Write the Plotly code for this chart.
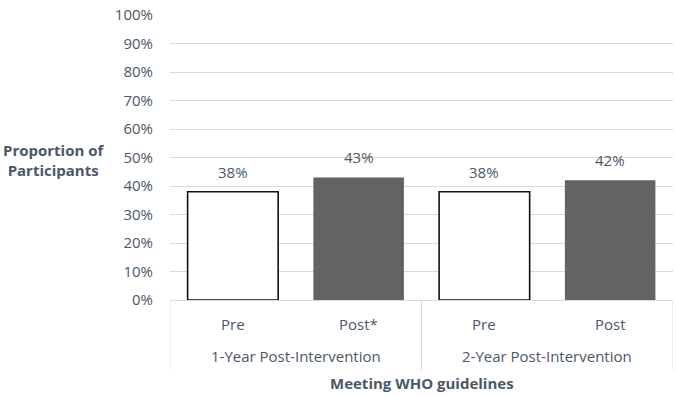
import plotly.graph_objects as go

groups = ["1-Year Post-Intervention", "2-Year Post-Intervention"]
phases = ["Pre", "Post*", "Pre", "Post"]
values = [38, 43, 38, 42]
y_ticks = [0, 10, 20, 30, 40, 50, 60, 70, 80, 90, 100]

TXT = "#4a5868"
FONT = "Open Sans, sans-serif"
FS = 15
xs = list(range(len(values)))

fig = go.Figure()
fig.add_trace(go.Bar(
    x=xs, y=values, width=0.72,
    marker=dict(color=["white", "#636363", "white", "#636363"],
                line=dict(color=["#111111", "#636363", "#111111", "#636363"], width=[1.6, 0, 1.6, 0])),
    hoverinfo="skip",
))
for i, v in enumerate(values):
    fig.add_annotation(x=i, y=v, xref="x", yref="y", text=f"{v}%", showarrow=False,
                       yanchor="bottom", yshift=8, font=dict(size=FS, color=TXT))

fig.update_layout(
    width=677, height=397,
    margin=dict(l=170, r=4, t=12, b=97),
    paper_bgcolor="white", plot_bgcolor="white",
    showlegend=False,
    font=dict(family=FONT, color=TXT, size=FS),
)
fig.update_yaxes(range=[0, 100], tickvals=y_ticks, ticktext=[f"{t}%" for t in y_ticks],
                 showgrid=True, gridcolor="#d9d9d9", gridwidth=1, zeroline=False,
                 ticks="", ticklabelstandoff=16, tickfont=dict(size=FS, color=TXT))
fig.update_xaxes(range=[-0.5, 3.5], showticklabels=False, showgrid=False, zeroline=False,
                 showline=True, linecolor="#d9d9d9", linewidth=1)

# category table lines
for xv in [-0.5, 1.5, 3.5]:
    fig.add_shape(type="line", xref="x", yref="paper", x0=xv, x1=xv, y0=0, y1=-0.245,
                  line=dict(color="#d9d9d9", width=1))

for i, p in enumerate(phases):
    fig.add_annotation(x=i, y=-0.085, xref="x", yref="paper", text=p, showarrow=False,
                       font=dict(size=FS, color=TXT), yanchor="middle")
for gi, g in enumerate(groups):
    fig.add_annotation(x=gi * 2 + 0.5, y=-0.195, xref="x", yref="paper", text=g, showarrow=False,
                       font=dict(size=FS, color=TXT), yanchor="middle")

fig.add_annotation(x=0.5, y=-0.29, xref="paper", yref="paper", text="<b>Meeting WHO guidelines</b>",
                   showarrow=False, font=dict(size=FS, color=TXT), yanchor="middle")
fig.add_annotation(x=-0.23, y=0.49, xref="paper", yref="paper",
                   text="<b>Proportion of<br>Participants</b>", showarrow=False, align="center",
                   font=dict(size=FS, color=TXT), xanchor="center", yanchor="middle")

fig.write_html("out.html")
